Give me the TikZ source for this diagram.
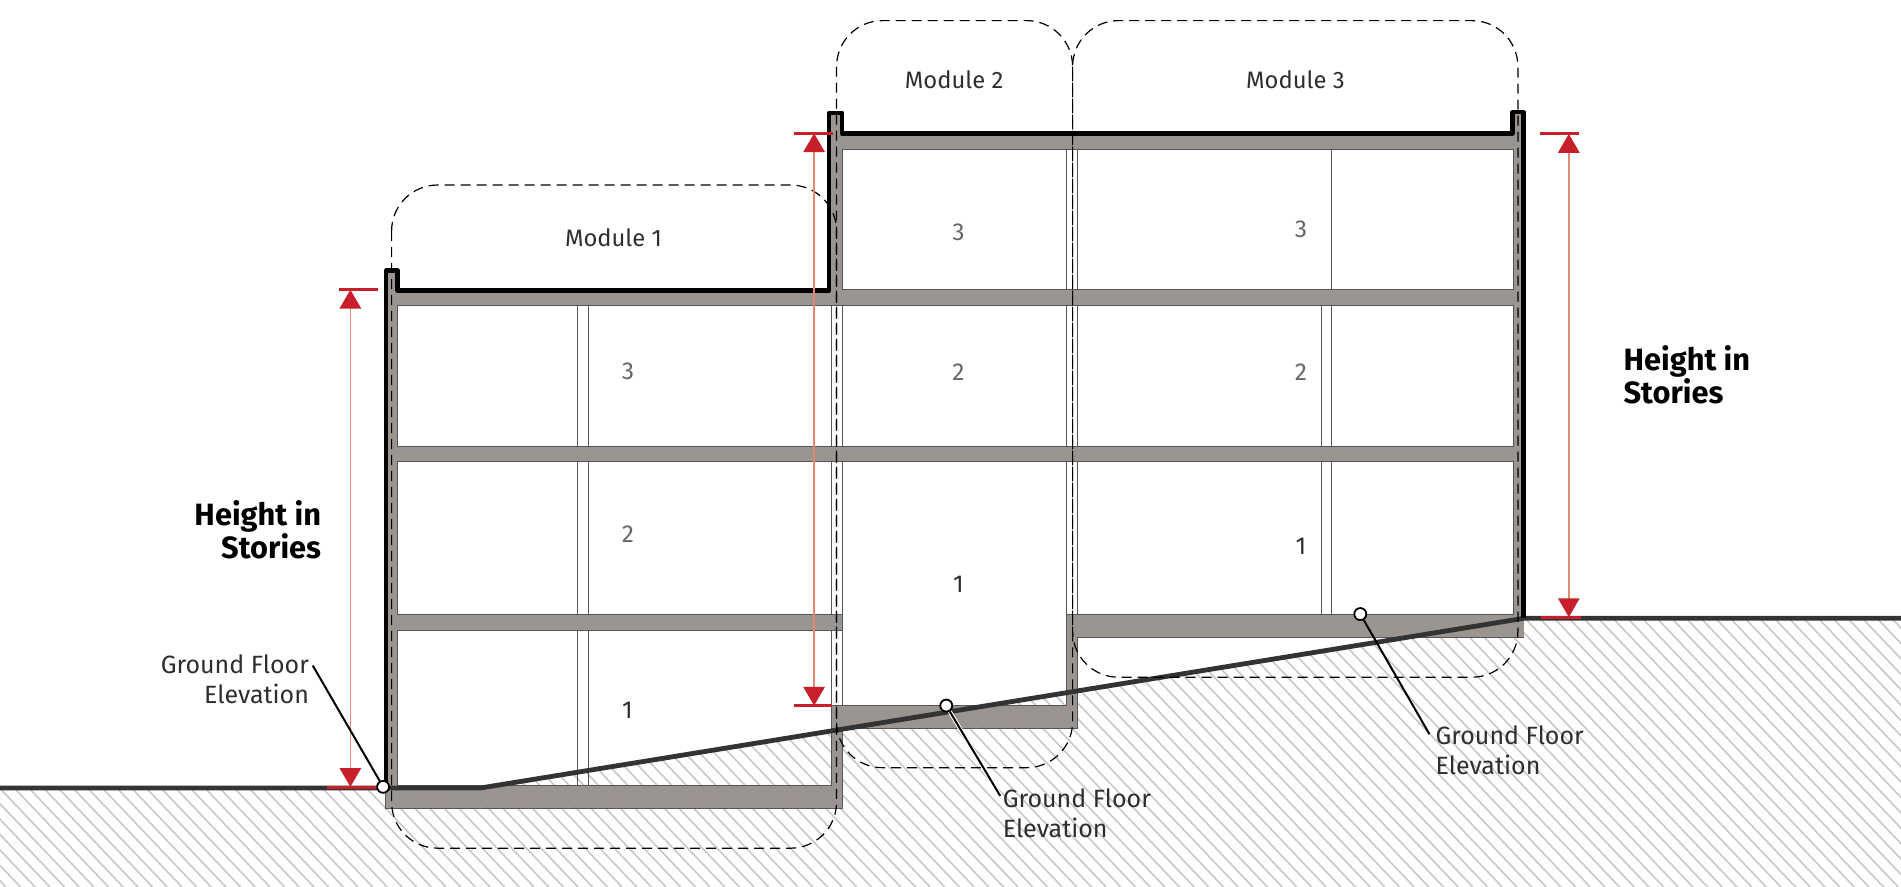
\documentclass[tikz,border=0pt]{standalone}
\usepackage{fontspec}
\setmainfont{Fira Sans}
\definecolor{concrete}{HTML}{968F8B}
\definecolor{edgec}{HTML}{5A5555}
\definecolor{hatchc}{HTML}{C8C8C8}
\definecolor{groundc}{HTML}{333333}
\definecolor{redc}{HTML}{C8202A}
\definecolor{salmon}{HTML}{E08A75}
\definecolor{textc}{HTML}{2E2E2E}
\definecolor{numc}{HTML}{666666}
\tikzset{
  hatchline/.style={draw=hatchc,line width=1.6pt},
  thinline/.style={draw=edgec,line width=1pt},
  groundline/.style={draw=groundc,line width=4.8pt},
  roofline/.style={draw=black,line width=4.4pt,line join=round},
  modulebox/.style={draw=black,line width=1.2pt,dash pattern=on 10pt off 6pt,rounded corners=46pt},
  tick/.style={draw=redc,line width=3pt},
  dimline/.style={draw=salmon,line width=1.6pt},
  redtri/.style={fill=redc},
  label/.style={text=textc,font=\fontsize{23.8}{30}\selectfont,inner sep=0pt},
  gflabel/.style={text=textc,font=\fontsize{25}{30}\selectfont,inner sep=0pt},
  num/.style={text=numc,font=\fontsize{24.5}{30}\selectfont,inner sep=0pt},
  numdark/.style={text=textc,font=\fontsize{24.5}{30}\selectfont,inner sep=0pt},
  heading/.style={text=black,font=\fontsize{30.8}{33}\selectfont\bfseries,inner sep=0pt},
  dot/.style={circle,draw=black,fill=white,line width=1.8pt,minimum size=12pt,inner sep=0pt},
  halo/.style={draw=white,line width=4pt},
  leader/.style={draw=black,line width=2pt},
}
\begin{document}
\begin{tikzpicture}[x=1.2124pt,y=-1.2124pt]
\useasboundingbox (0,0) rectangle (1568,731.6);
% ground hatch
\begin{scope}
  \clip (0,650) -- (396,650) -- (1257,510) -- (1568,510) -- (1568,732) -- (0,732) -- cycle;
  \foreach \k in {0,...,150} \draw[hatchline] ({\k*12.1-240},500) -- ++(221,232);
\end{scope}
% concrete structure
\fill[concrete,fill opacity=.95,even odd rule]
  (318,222) -- (328,222) -- (328,239) -- (685,239) -- (685,92) -- (695,92) -- (695,110.5)
  -- (1247.5,110.5) -- (1247.5,92) -- (1257,92) -- (1257,526) -- (889,526) -- (889,601)
  -- (695,601) -- (695,667) -- (318,667) -- cycle
  (695,123) rectangle (1248,239)
  (328,252) rectangle (1248,368)
  (328,381) -- (1248,381) -- (1248,507) -- (880,507) -- (880,582) -- (686,582) -- (686,648)
  -- (328,648) -- (328,520) -- (695,520) -- (695,507) -- (328,507) -- cycle;
\draw[thinline]
  (318,667) -- (695,667) -- (695,601) -- (889,601) -- (889,526) -- (1257,526)
  (695,123) rectangle (1248,239)
  (328,252) rectangle (1248,368)
  (328,381) -- (1248,381) -- (1248,507) -- (880,507) -- (880,582) -- (686,582) -- (686,648)
  -- (328,648) -- (328,520) -- (695,520) -- (695,507) -- (328,507) -- cycle
  (318,650) -- (318,667);
% partitions
\draw[thinline]
  (476.5,252) -- (476.5,368) (485.3,252) -- (485.3,368)
  (476.5,381) -- (476.5,507) (485.3,381) -- (485.3,507)
  (476.5,520) -- (476.5,648) (485.3,520) -- (485.3,648)
  (686,252) -- (686,368) (695,252) -- (695,368)
  (686,381) -- (686,507) (695,381) -- (695,507)
  (686,520) -- (686,582) (695,520) -- (695,582)
  (880,123) -- (880,239) (889,123) -- (889,239)
  (880,252) -- (880,368) (889,252) -- (889,368)
  (880,381) -- (880,507) (889,381) -- (889,507)
  (1098.5,123) -- (1098.5,239)
  (1089.6,252) -- (1089.6,368) (1098.5,252) -- (1098.5,368)
  (1089.6,381) -- (1089.6,507) (1098.5,381) -- (1098.5,507);
% ground line
\draw[groundline] (0,650) -- (396,650) -- (1257,510) -- (1568,510);
% roof line
\draw[roofline] (318.5,650) -- (318.5,223) -- (328,223) -- (328,239.5) -- (684,239.5) -- (684,93) -- (694.5,93)
  -- (694.5,110) -- (1247.5,110) -- (1247.5,92.5) -- (1256.5,92.5) -- (1256.5,510);
% module outlines
\draw[modulebox] (323,152.6) rectangle (690,699.6);
\draw[modulebox] (690,17) rectangle (884.7,633.2);
\draw[modulebox] (884.7,17) rectangle (1252,558.6);
% dimensions
\coordinate (dt1) at (289,239); \coordinate (db1) at (289,649);
\coordinate (dt2) at (671.5,110); \coordinate (db2) at (671.5,582);
\coordinate (dt3) at (1294,110.5); \coordinate (db3) at (1294,509);
\draw[dimline] (dt1) -- (db1);
\draw[dimline] (dt2) -- (db2);
\draw[dimline] (dt3) -- (db3);
\foreach \c in {dt1,dt2,dt3} \fill[redtri] (\c) -- ++(-9,15.5) -- ++(18,0) -- cycle;
\foreach \c in {db1,db2,db3} \fill[redtri] (\c) -- ++(-9,-15.5) -- ++(18,0) -- cycle;
\draw[tick] (280,239) -- (312,239);
\draw[tick] (270,649.5) -- (318,649.5);
\draw[tick] (655,110) -- (687,110);
\draw[tick] (655,582) -- (686,582);
\draw[tick] (1270,110.5) -- (1302,110.5);
\draw[tick] (1271,509.5) -- (1304,509.5);
% leaders
\node[dot] (g1) at (316,649) {};
\node[dot] (g2) at (780.5,582) {};
\node[dot] (g3) at (1122,506.5) {};
\coordinate (e1) at (258,549);
\coordinate (e2) at (825,656.5);
\coordinate (e3) at (1179,605.5);
\draw[halo] (g2) -- (e2);
\draw[leader] (g1) -- (e1);
\draw[leader] (g2) -- (e2);
\draw[leader] (g3) -- (e3);
% labels
\node[label] (m1) at (506,196) {Module 1};
\node[label] (m2) at (787,66) {Module 2};
\node[label] (m3) at (1068.5,66) {Module 3};
\node[gflabel,align=right,anchor=east] (t1) at (255,560) {Ground Floor\\Elevation};
\node[gflabel,align=left,anchor=west] (t2) at (827,671) {Ground Floor\\Elevation};
\node[gflabel,align=left,anchor=west] (t3) at (1184,619) {Ground Floor\\Elevation};
\node[heading,align=right,anchor=east] (h1) at (265,437) {Height in\\Stories};
\node[heading,align=left,anchor=west] (h2) at (1339,309) {Height in\\Stories};
\node[num] (n13) at (518,306) {3};
\node[num] (n12) at (518,441) {2};
\node[numdark] (n11) at (517.5,586) {1};
\node[num] (n23) at (790.5,192) {3};
\node[num] (n22) at (790.5,307) {2};
\node[numdark] (n21) at (790.5,482) {1};
\node[num] (n33) at (1073,189) {3};
\node[num] (n32) at (1073,307) {2};
\node[numdark] (n31) at (1073,451) {1};
\end{tikzpicture}
\end{document}
